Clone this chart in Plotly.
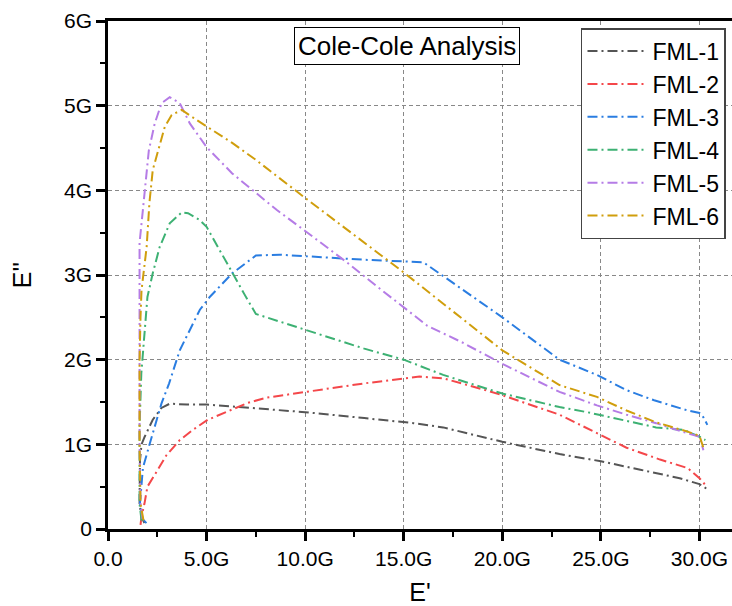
import plotly.graph_objects as go

names = ["FML-1", "FML-2", "FML-3", "FML-4", "FML-5", "FML-6"]
colors = ["#555555", "#F4474A", "#2A7DE1", "#3DB173", "#B57CE6", "#D09E0C"]

# E' (G) and E'' (G) for each sample
x1 = [1.85, 1.7, 1.6, 1.6, 1.62, 1.7, 1.86, 2.27, 2.71, 3.13, 4.0, 5.0, 6.7, 8.0, 10.0, 13.0, 15.5, 17.0, 20.0, 22.9, 25.0, 27.0, 29.0, 30.0, 30.4]
y1 = [0.07, 0.14, 0.3, 0.55, 0.8, 1.0, 1.09, 1.29, 1.43, 1.48, 1.47, 1.47, 1.44, 1.41, 1.38, 1.31, 1.25, 1.2, 1.03, 0.885, 0.8, 0.7, 0.6, 0.53, 0.47]

x2 = [1.65, 1.7, 1.85, 2.0, 2.37, 2.96, 3.64, 4.3, 5.06, 6.0, 7.1, 8.0, 10.0, 13.0, 15.8, 17.0, 19.0, 20.0, 22.9, 25.0, 26.3, 28.0, 29.4, 30.0, 30.3]
y2 = [0.05, 0.15, 0.3, 0.5, 0.64, 0.87, 1.05, 1.17, 1.29, 1.38, 1.49, 1.55, 1.62, 1.72, 1.8, 1.78, 1.65, 1.58, 1.35, 1.11, 0.96, 0.82, 0.72, 0.6, 0.52]

x3 = [1.95, 1.75, 1.62, 1.68, 1.77, 2.12, 2.71, 3.1, 3.64, 4.66, 5.16, 6.3, 7.5, 8.7, 10.0, 13.0, 16.0, 18.0, 20.0, 22.9, 24.8, 26.3, 27.7, 29.4, 30.0, 30.2, 30.4]
y3 = [0.07, 0.12, 0.3, 0.5, 0.72, 1.01, 1.48, 1.72, 2.11, 2.59, 2.74, 3.02, 3.23, 3.24, 3.22, 3.18, 3.15, 2.82, 2.5, 2.0, 1.82, 1.64, 1.52, 1.4, 1.37, 1.32, 1.23]

x4 = [1.7, 1.6, 1.6, 1.6, 1.69, 1.86, 1.95, 2.0, 2.27, 2.62, 3.13, 3.74, 4.06, 4.65, 5.0, 5.67, 6.3, 6.9, 7.5, 10.0, 13.0, 15.0, 17.0, 20.0, 22.9, 24.3, 26.0, 27.8, 29.2, 30.0, 30.3]
y4 = [0.1, 0.3, 0.7, 1.2, 1.84, 2.31, 2.6, 2.74, 3.02, 3.33, 3.61, 3.74, 3.73, 3.65, 3.57, 3.29, 3.02, 2.78, 2.54, 2.35, 2.13, 2.0, 1.82, 1.6, 1.44, 1.38, 1.29, 1.2, 1.17, 1.09, 1.05]

x5 = [1.75, 1.65, 1.6, 1.6, 1.6, 1.77, 2.07, 2.37, 2.72, 3.13, 3.64, 4.15, 5.0, 6.3, 7.5, 8.55, 10.0, 12.0, 14.0, 16.2, 18.0, 20.0, 22.9, 24.8, 26.3, 27.8, 29.4, 30.0, 30.2]
y5 = [0.12, 0.3, 1.0, 2.0, 3.38, 3.77, 4.47, 4.79, 5.03, 5.1, 5.03, 4.79, 4.51, 4.2, 3.97, 3.77, 3.52, 3.17, 2.8, 2.4, 2.2, 1.95, 1.62, 1.46, 1.35, 1.25, 1.13, 1.09, 0.93]

x6 = [1.8, 1.65, 1.6, 1.6, 1.65, 1.7, 1.96, 2.1, 2.27, 2.53, 2.88, 3.23, 3.74, 4.5, 5.16, 6.3, 7.5, 8.6, 10.0, 12.5, 15.0, 17.5, 20.0, 22.9, 24.8, 26.3, 27.8, 29.4, 30.0, 30.2]
y6 = [0.1, 0.3, 1.0, 2.0, 2.5, 2.82, 3.33, 3.85, 4.24, 4.47, 4.75, 4.89, 4.95, 4.83, 4.73, 4.56, 4.36, 4.16, 3.91, 3.47, 3.03, 2.57, 2.11, 1.7, 1.56, 1.4, 1.26, 1.15, 1.1, 0.96]

xs = [x1, x2, x3, x4, x5, x6]
ys = [y1, y2, y3, y4, y5, y6]

x_ticks = [0, 5, 10, 15, 20, 25, 30]
x_ticklabels = ["0.0", "5.0G", "10.0G", "15.0G", "20.0G", "25.0G", "30.0G"]
y_ticks = [0, 1, 2, 3, 4, 5, 6]
y_ticklabels = ["0", "1G", "2G", "3G", "4G", "5G", "6G"]

FONT = "Arial, Liberation Sans, sans-serif"

fig = go.Figure()
for name, c, x, y in zip(names, colors, xs, ys):
    fig.add_trace(go.Scatter(
        x=x, y=y, mode="lines", name=name,
        line=dict(color=c, width=2, dash="10px,4px,2px,4px"),
    ))

fig.update_layout(
    width=732, height=606,
    margin=dict(l=108, r=0, t=21, b=77),
    paper_bgcolor="white", plot_bgcolor="white",
    font=dict(family=FONT, color="black"),
    showlegend=True,
    legend=dict(
        x=0.758, y=0.986, xanchor="left", yanchor="top",
        bordercolor="#444444", borderwidth=1.5, bgcolor="white",
        font=dict(size=23, family=FONT),
        itemwidth=60, tracegroupgap=0,
    ),
    xaxis=dict(
        range=[0, 31.65], tickvals=x_ticks, ticktext=x_ticklabels,
        showline=True, linecolor="black", linewidth=2.5, mirror=True,
        ticks="outside", ticklen=9, tickwidth=2.5, tickcolor="black",
        minor=dict(dtick=2.5, tick0=0, ticks="outside", ticklen=5, tickwidth=2, tickcolor="black", showgrid=False),
        showgrid=True, gridcolor="#888888", griddash="4px,3px", gridwidth=1,
        zeroline=False,
        tickfont=dict(size=21, family=FONT),
        title=dict(text="E'", font=dict(size=25, family=FONT), standoff=16),
    ),
    yaxis=dict(
        range=[0, 6], tickvals=y_ticks, ticktext=y_ticklabels,
        showline=True, linecolor="black", linewidth=2.5, mirror=False,
        ticks="outside", ticklen=9, tickwidth=2.5, tickcolor="black",
        minor=dict(dtick=0.5, tick0=0, ticks="outside", ticklen=5, tickwidth=2, tickcolor="black", showgrid=False),
        showgrid=True, gridcolor="#888888", griddash="4px,3px", gridwidth=1,
        zeroline=False,
        tickfont=dict(size=21, family=FONT),
        title=dict(text="E''", font=dict(size=25, family=FONT), standoff=26),
    ),
    annotations=[dict(
        text="Cole-Cole Analysis", xref="paper", yref="paper",
        x=0.4785, y=0.950, xanchor="center", yanchor="middle",
        showarrow=False, font=dict(size=26, family=FONT, color="black"),
        bordercolor="black", borderwidth=1, borderpad=3, bgcolor="white",
    )],
)

fig.write_html("out.html")
